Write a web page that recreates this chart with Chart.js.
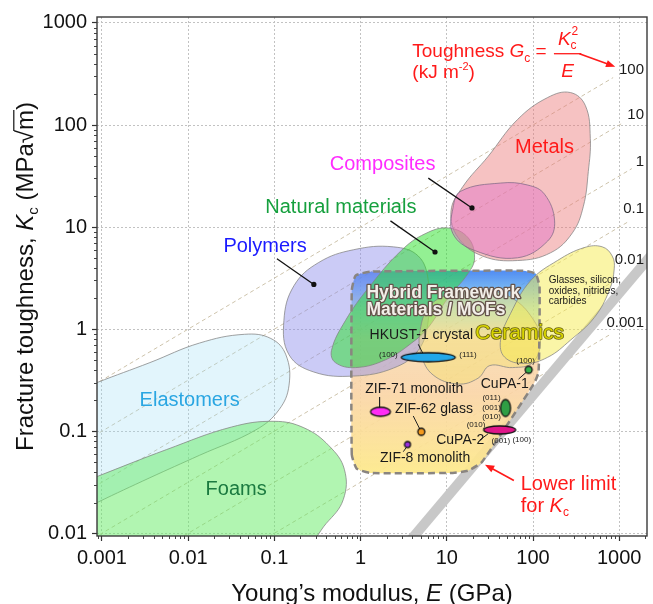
<!DOCTYPE html>
<html>
<head>
<meta charset="utf-8">
<title>Fracture toughness vs Young's modulus</title>
<script src="https://cdn.jsdelivr.net/npm/chart.js@4.4.1/dist/chart.umd.min.js"></script>
<style>
  html, body { margin: 0; padding: 0; background: #fff; }
  #wrap { width: 653px; height: 604px; }
</style>
</head>
<body>
<div id="wrap"><canvas id="ashby" width="653" height="604"></canvas></div>
<script>
const SANS = '"Liberation Sans", Arial, Helvetica, sans-serif';

// axis ranges: E in GPa, Kc in MPa m^0.5
const xMin = 0.000876, xMax = 2100;
const yMin = 0.0094, yMax = 1144;
const xTickValues = [0.001, 0.01, 0.1, 1, 10, 100, 1000];
const xTickLabels = ['0.001', '0.01', '0.1', '1', '10', '100', '1000'];
const yTickValues = [0.01, 0.1, 1, 10, 100, 1000];
const yTickLabels = ['0.01', '0.1', '1', '10', '100', '1000'];

// toughness guide lines, Gc = Kc^2 / E in kJ m^-2
const toughnessG = [100, 10, 1, 0.1, 0.01, 0.001];
const toughnessLabels = ['100', '10', '1', '0.1', '0.01', '0.001'];
const guideStartE = 0.0008;
const guideEndE = [850, 1100, 1400, 1300, 1000, 800];
const guideLabelE = 1940;
const guideLabelK = [348, 127, 44, 15, 4.8, 1.16];

// lower limit for Kc
const lowerLimit = [[3, 0.00675], [3000, 6.75]];

// material family outlines, [E, Kc]
const elastomers = [[0.00056, 0.254], [0.00088, 0.30], [0.0036, 0.47], [0.0135, 0.73], [0.045, 0.89],
  [0.091, 0.81], [0.136, 0.56], [0.148, 0.283], [0.113, 0.162], [0.061, 0.103], [0.0135, 0.058],
  [0.0036, 0.035], [0.00088, 0.020], [0.00056, 0.0164]];
const foams = [[0.00056, 0.031], [0.00088, 0.036], [0.0056, 0.066], [0.032, 0.11], [0.10, 0.125],
  [0.22, 0.108], [0.43, 0.072], [0.65, 0.042], [0.63, 0.0214], [0.40, 0.0125], [0.22, 0.0078],
  [0.00056, 0.0078]];
const polymers = [[0.129, 1.22], [0.169, 2.67], [0.327, 4.5], [0.83, 6.0], [2.4, 6.4], [4.67, 5.2],
  [6.1, 2.99], [6.1, 1.22], [4.67, 0.62], [2.4, 0.415], [0.83, 0.347], [0.287, 0.38], [0.148, 0.56]];
const natural = [[0.46, 0.62], [0.67, 1.22], [1.24, 2.55], [2.97, 5.9], [5.6, 8.6], [10.4, 9.8],
  [17.6, 7.9], [21, 5.0], [17.6, 3.5], [10.4, 2.04], [6.1, 1.04], [3.9, 0.73], [1.94, 0.50],
  [0.875, 0.42], [0.51, 0.47]];
const ceramics = [[4.9, 0.97], [6.4, 1.71], [11.8, 2.23], [30, 2.39], [58, 2.0], [99, 1.27], [122, 0.78],
  [99, 0.47], [58, 0.42], [31.6, 0.44], [23, 0.33], [13.5, 0.29], [6.95, 0.355], [5.06, 0.56]];
const glasses = [[394, 6.3], [637, 6.4], [830, 5.2], [875, 3.9], [766, 2.39], [514, 1.30], [272, 0.78],
  [148, 0.53], [80, 0.46], [47, 0.53], [42, 0.78], [55, 1.43], [94, 2.99], [192, 4.7]];
const metals = [[272, 208], [405, 155], [462, 74], [438, 35], [384, 16], [287, 8.8], [160, 5.6],
  [66, 4.7], [26, 5.2], [13.5, 7.9], [11.2, 14.4], [15.4, 25], [30, 49], [66, 113], [148, 186]];
const composites = [[14.6, 22.5], [42, 27], [87, 25.8], [136, 21], [178, 11.5], [148, 7.3], [66, 5.0],
  [21, 5.9], [11.8, 8.6], [11.8, 15.4]];
const mofBox = [[0.79, 0.059], [0.79, 2.39], [0.875, 3.35], [1.30, 3.66], [76, 3.74], [107, 3.5],
  [119, 2.61], [116, 0.38], [102, 0.29], [25.6, 0.050], [17.6, 0.041], [10.9, 0.039], [1.30, 0.039],
  [0.90, 0.043]];

// MOF samples
const mofNames = ['HKUST-1 crystal', 'ZIF-71 monolith', 'ZIF-62 glass', 'ZIF-8 monolith', 'CuPA-1 (100)', 'CuPA-1', 'CuPA-2'];
const mofE = [6.1, 1.7, 5.06, 3.5, 89, 48, 41];
const mofK = [0.53, 0.155, 0.0987, 0.074, 0.40, 0.169, 0.103];

// leader lines [from, to]; dotted ones end on a family
const familyLeaders = [[[0.107, 4.9], [0.287, 2.74]], [[2.22, 11.5], [7.3, 5.7]], [[6.1, 30.2], [19.6, 15.4]]];
const sampleLeaders = [[[4.67, 0.71], [5.5, 0.54]], [[1.66, 0.216], [1.66, 0.169]], [[4.08, 0.141], [4.92, 0.103]],
  [[3.13, 0.063], [3.5, 0.072]], [[68, 0.324], [87, 0.39]], [[24.2, 0.082], [30, 0.094]]];

// text placed on the plot: [text, E, Kc]
const familyLabels = [
  ['Metals', 136, 60.5, '#ff1a1a'],
  ['Composites', 1.8, 41, '#ff2cff'],
  ['Natural materials', 0.59, 15.7, '#16a03e'],
  ['Polymers', 0.078, 6.4, '#1a1aff'],
  ['Elastomers', 0.0104, 0.198, '#2aa6e2'],
  ['Foams', 0.036, 0.0269, '#1b7a40']
];
const sampleLabels = [
  ['HKUST-1 crystal', 5.06, 0.87], ['ZIF-71 monolith', 4.2, 0.26], ['ZIF-62 glass', 7.1, 0.165],
  ['ZIF-8 monolith', 5.6, 0.055], ['CuPA-1', 47, 0.29], ['CuPA-2', 14.3, 0.082]
];
const facetLabels = [
  ['(100)', 2.1, 0.56], ['(111)', 17.6, 0.56], ['(100)', 82, 0.485],
  ['(011)', 33, 0.212], ['(001)', 33, 0.169], ['(010)', 33, 0.138],
  ['(010)', 21.8, 0.115], ['(001)', 42.4, 0.0805], ['(100)', 74, 0.082]
];
const glassesText = ['Glasses, silicon,', 'oxides, nitrides,', 'carbides'];
const glassesAnchor = [152, 2.99];
const hybridText = ['Hybrid Framework', 'Materials / MOFs'];
const hybridAnchor = [1.17, 2.04];
const ceramicsAnchor = [70, 0.91];
const toughAnchor = [3.98, 467];
const toughUnitAnchor = [3.98, 291];
const lowerAnchor = [72, 0.030];
const redArrows = [[[345, 499], [900, 372]], [[60, 0.0329], [27.7, 0.047]]];

const isDecade = v => Math.abs(Math.log10(v) - Math.round(Math.log10(v))) < 1e-6;
const tickText = (v, values, labels) => {
  const i = values.findIndex(t => Math.abs(Math.log10(v / t)) < 1e-6);
  return i < 0 ? '' : labels[i];
};
const pts = arr => arr.map(([x, y]) => ({x, y}));

function region(outline, fill, extra) {
  return Object.assign({
    data: pts(outline), closed: true, showLine: true, spanGaps: true,
    fill: 'shape', backgroundColor: fill, borderColor: 'rgba(130,130,130,0.75)',
    borderWidth: 1, pointRadius: 0, tension: 0.4, clip: 0
  }, extra || {});
}

function mofGradient(c) {
  const chart = c.chart;
  if (!chart.chartArea) return 'rgba(0,0,0,0)';
  const y = chart.scales.y;
  const ks = mofBox.map(p => p[1]);
  const top = y.getPixelForValue(Math.max(...ks)), bot = y.getPixelForValue(Math.min(...ks));
  const g = chart.ctx.createLinearGradient(0, top, 0, bot);
  g.addColorStop(0, 'rgba(50,120,240,0.85)');
  g.addColorStop(0.1, 'rgba(90,170,240,0.8)');
  g.addColorStop(0.2, 'rgba(150,215,205,0.7)');
  g.addColorStop(0.33, 'rgba(246,214,170,0.8)');
  g.addColorStop(0.6, 'rgba(250,212,165,0.9)');
  g.addColorStop(1, 'rgba(253,233,140,0.95)');
  return g;
}

function ellipseMark(rx, ry, fill) {
  const c = document.createElement('canvas');
  c.width = Math.ceil(rx * 2 + 4);
  c.height = Math.ceil(ry * 2 + 4);
  const g = c.getContext('2d');
  g.beginPath();
  g.ellipse(c.width / 2, c.height / 2, rx, ry, 0, 0, Math.PI * 2);
  g.fillStyle = fill;
  g.fill();
  g.lineWidth = 1.3;
  g.strokeStyle = '#111';
  g.stroke();
  return c;
}
const markStyles = [
  ellipseMark(27, 4.5, '#22a7e8'), ellipseMark(10, 4.5, '#ff2df5'), ellipseMark(3.5, 3.5, '#f39a1e'),
  ellipseMark(3, 3, '#9b2fe0'), ellipseMark(3.5, 3.5, '#33b04a'), ellipseMark(5, 8.5, '#2f9e44'),
  ellipseMark(16, 4, '#e0168a')
];

// datasets listed bottom layer first
const layers = [];
toughnessG.forEach((g, i) => layers.push({
  data: [{x: guideStartE, y: Math.sqrt(g * guideStartE)}, {x: guideEndE[i], y: Math.sqrt(g * guideEndE[i])}],
  showLine: true, borderColor: '#cdc3ab', borderWidth: 1, borderDash: [4, 3], pointRadius: 0, clip: 0
}));
layers.push({data: pts(lowerLimit), showLine: true, borderColor: '#c8c8c8', borderWidth: 10, pointRadius: 0, clip: 0});
layers.push(region(elastomers, 'rgba(160,222,245,0.3)'));
layers.push(region(foams, 'rgba(100,235,100,0.5)'));
layers.push(region(mofBox, mofGradient, {borderWidth: 0, tension: 0.15}));
layers.push(region(polymers, 'rgba(140,140,235,0.45)'));
layers.push(region(natural, 'rgba(40,225,40,0.5)'));
layers.push(region(ceramics, 'rgba(245,225,110,0.45)'));
layers.push(region(glasses, 'rgba(245,235,80,0.5)'));
layers.push(region(metals, 'rgba(235,120,120,0.45)'));
layers.push(region(composites, 'rgba(225,110,200,0.45)', {borderColor: 'rgba(120,100,130,0.7)'}));
layers.push(region(mofBox, 'rgba(0,0,0,0)', {fill: false, borderColor: '#8a8580', borderWidth: 2.5, borderDash: [7, 4], tension: 0.15}));
familyLeaders.forEach(l => layers.push({
  data: pts(l), showLine: true, borderColor: '#111', borderWidth: 1.3,
  pointRadius: [0, 2.6], pointBackgroundColor: '#111', pointBorderWidth: 0, clip: 0
}));
sampleLeaders.forEach(l => layers.push({
  data: pts(l), showLine: true, borderColor: '#222', borderWidth: 1, pointRadius: 0, clip: 0
}));
layers.push({
  label: 'MOFs', data: mofE.map((e, i) => ({x: e, y: mofK[i]})),
  pointStyle: markStyles, pointRadius: 5, clip: false
});
layers.forEach((d, i) => { d.order = layers.length - i; });

function richWidth(ctx, parts) {
  let w = 0;
  for (const p of parts) { ctx.font = p.font; w += ctx.measureText(p.t).width; }
  return w;
}
function drawRich(ctx, parts, x, y) {
  for (const p of parts) {
    ctx.font = p.font;
    ctx.fillText(p.t, x, y + (p.dy || 0));
    p.x0 = x;
    x += ctx.measureText(p.t).width;
    p.x1 = x;
  }
  return x;
}
function arrow(ctx, x0, y0, x1, y1) {
  const a = Math.atan2(y1 - y0, x1 - x0), h = 10;
  ctx.beginPath();
  ctx.moveTo(x0, y0);
  ctx.lineTo(x1 - Math.cos(a) * h * 0.8, y1 - Math.sin(a) * h * 0.8);
  ctx.stroke();
  ctx.beginPath();
  ctx.moveTo(x1, y1);
  ctx.lineTo(x1 - h * Math.cos(a - 0.38), y1 - h * Math.sin(a - 0.38));
  ctx.lineTo(x1 - h * Math.cos(a + 0.38), y1 - h * Math.sin(a + 0.38));
  ctx.closePath();
  ctx.fill();
}

const annotate = {
  id: 'annotate',
  afterDatasetUpdate(chart, args) {
    const ds = chart.data.datasets[args.index];
    if (ds.closed) {
      const line = args.meta.dataset;
      line._loop = true;
      line._fullLoop = true;
      delete line._segments;
      line._pointsUpdated = false;
    }
  },
  afterDraw(chart) {
    const ctx = chart.ctx, area = chart.chartArea;
    const xs = chart.scales.x, ys = chart.scales.y;
    const px = v => xs.getPixelForValue(v), py = v => ys.getPixelForValue(v);
    ctx.save();

    // minor ticks
    ctx.strokeStyle = '#444';
    ctx.lineWidth = 1;
    ctx.beginPath();
    for (let d = -4; d <= 3; d++) {
      for (let m = 2; m <= 9; m++) {
        const v = m * Math.pow(10, d);
        if (v > xMin && v < xMax) { const x = Math.round(px(v)) + 0.5; ctx.moveTo(x, area.bottom); ctx.lineTo(x, area.bottom + 3); }
        if (v > yMin && v < yMax) { const y = Math.round(py(v)) + 0.5; ctx.moveTo(area.left, y); ctx.lineTo(area.left - 3, y); }
      }
    }
    ctx.stroke();

    // plot frame
    ctx.strokeStyle = '#3a3a3a';
    ctx.lineWidth = 1.4;
    ctx.strokeRect(area.left, area.top, area.right - area.left, area.bottom - area.top);

    ctx.textBaseline = 'middle';
    ctx.textAlign = 'center';

    familyLabels.forEach(([t, e, k, c]) => {
      ctx.font = `20px ${SANS}`;
      ctx.fillStyle = c;
      ctx.fillText(t, px(e), py(k));
    });

    ctx.fillStyle = '#1a1a1a';
    ctx.font = `14px ${SANS}`;
    sampleLabels.forEach(([t, e, k]) => ctx.fillText(t, px(e), py(k)));
    ctx.font = `8px ${SANS}`;
    facetLabels.forEach(([t, e, k]) => ctx.fillText(t, px(e), py(k)));

    // toughness values on the guide lines
    ctx.textAlign = 'right';
    ctx.font = `15px ${SANS}`;
    toughnessLabels.forEach((t, i) => ctx.fillText(t, px(guideLabelE), py(guideLabelK[i])));

    ctx.textAlign = 'left';
    ctx.font = `10px ${SANS}`;
    glassesText.forEach((t, i) => ctx.fillText(t, px(glassesAnchor[0]), py(glassesAnchor[1]) + i * 10.5));

    // outlined headings
    ctx.lineJoin = 'round';
    ctx.textBaseline = 'alphabetic';
    ctx.font = `bold 17.5px ${SANS}`;
    hybridText.forEach((t, i) => {
      const x = px(hybridAnchor[0]), y = py(hybridAnchor[1]) + i * 17;
      ctx.strokeStyle = '#66544c';
      ctx.lineWidth = 2.6;
      ctx.strokeText(t, x, y);
      ctx.fillStyle = '#f3efe9';
      ctx.fillText(t, x, y);
    });
    ctx.textAlign = 'center';
    ctx.textBaseline = 'middle';
    ctx.font = `21px ${SANS}`;
    ctx.strokeStyle = '#6a6412';
    ctx.lineWidth = 1.6;
    ctx.strokeText('Ceramics', px(ceramicsAnchor[0]), py(ceramicsAnchor[1]));
    ctx.fillStyle = '#d8d400';
    ctx.fillText('Ceramics', px(ceramicsAnchor[0]), py(ceramicsAnchor[1]));

    // red notes
    const red = '#ff1a1a';
    ctx.fillStyle = red;
    ctx.strokeStyle = red;
    ctx.textAlign = 'left';
    ctx.textBaseline = 'alphabetic';
    const f = 19, rom = `${f}px ${SANS}`, ita = `italic ${f}px ${SANS}`, sm = `12px ${SANS}`;
    let tx = px(toughAnchor[0]);
    const tb = py(toughAnchor[1]);
    tx = drawRich(ctx, [{t: 'Toughness ', font: rom}, {t: 'G', font: ita}, {t: 'c', font: sm, dy: 5}, {t: ' = ', font: rom}], tx, tb);
    ctx.font = ita;
    const wK = ctx.measureText('K').width;
    ctx.font = sm;
    const wS = Math.max(ctx.measureText('c').width, ctx.measureText('2').width);
    ctx.font = ita;
    const wE = ctx.measureText('E').width;
    const barW = Math.max(wK + wS, wE) + 8;
    const bx = tx + 2;
    const nx = bx + (barW - wK - wS) / 2;
    ctx.fillText('K', nx, tb - 12);
    ctx.font = sm;
    ctx.fillText('c', nx + wK, tb - 8);
    ctx.fillText('2', nx + wK + 1, tb - 22);
    ctx.font = ita;
    ctx.fillText('E', bx + (barW - wE) / 2, tb + 20);
    ctx.lineWidth = 1.3;
    ctx.beginPath();
    ctx.moveTo(bx, tb - 3);
    ctx.lineTo(bx + barW, tb - 3);
    ctx.stroke();
    drawRich(ctx, [{t: '(kJ m', font: rom}, {t: '-2', font: `11px ${SANS}`, dy: -8}, {t: ')', font: rom}],
      px(toughUnitAnchor[0]), py(toughUnitAnchor[1]));

    ctx.textBaseline = 'middle';
    const lx = px(lowerAnchor[0]), ly = py(lowerAnchor[1]);
    ctx.font = `20px ${SANS}`;
    ctx.fillText('Lower limit', lx, ly);
    drawRich(ctx, [{t: 'for ', font: `20px ${SANS}`}, {t: 'K', font: `italic 20px ${SANS}`}, {t: 'c', font: sm, dy: 6}], lx, ly + 22);

    ctx.lineWidth = 1.6;
    redArrows.forEach(([a, b]) => arrow(ctx, px(a[0]), py(a[1]), px(b[0]), py(b[1])));

    // axis titles
    const s = 24;
    ctx.fillStyle = '#111';
    ctx.strokeStyle = '#111';
    ctx.textBaseline = 'alphabetic';
    const xParts = [{t: 'Young\u2019s modulus, ', font: `${s}px ${SANS}`}, {t: 'E', font: `italic ${s}px ${SANS}`}, {t: ' (GPa)', font: `${s}px ${SANS}`}];
    const xw = richWidth(ctx, xParts);
    drawRich(ctx, xParts, (area.left + area.right) / 2 - xw / 2, 601);

    const yParts = [
      {t: 'Fracture toughness, ', font: `${s}px ${SANS}`},
      {t: 'K', font: `italic ${s}px ${SANS}`},
      {t: 'c', font: `15px ${SANS}`, dy: 5},
      {t: ' (MPa', font: `${s}px ${SANS}`},
      {t: '\u221A', font: `${s}px ${SANS}`},
      {t: 'm', font: `${s}px ${SANS}`},
      {t: ')', font: `${s}px ${SANS}`}
    ];
    ctx.translate(33, (area.top + area.bottom) / 2);
    ctx.rotate(-Math.PI / 2);
    const yw = richWidth(ctx, yParts);
    drawRich(ctx, yParts, -yw / 2, 0);
    ctx.lineWidth = 1.2;
    ctx.beginPath();
    ctx.moveTo(yParts[4].x1 - 1, -s * 0.8);
    ctx.lineTo(yParts[5].x1, -s * 0.8);
    ctx.stroke();

    ctx.restore();
  }
};

new Chart(document.getElementById('ashby'), {
  type: 'scatter',
  data: {datasets: layers},
  options: {
    responsive: false,
    maintainAspectRatio: false,
    devicePixelRatio: 1,
    animation: false,
    events: [],
    layout: {padding: {top: 15, right: 3, left: 0, bottom: 0}},
    plugins: {legend: {display: false}, tooltip: {enabled: false}},
    scales: {
      x: {
        type: 'logarithmic', min: xMin, max: xMax,
        afterFit(scale) { scale.height = 68; },
        border: {display: false, dash: [2, 2]},
        grid: {
          color: c => (c.tick && isDecade(c.tick.value) ? '#c2c2c2' : 'rgba(0,0,0,0)'),
          lineWidth: 1, tickLength: 5, tickWidth: 1.2,
          tickColor: c => (c.tick && isDecade(c.tick.value) ? '#333' : 'rgba(0,0,0,0)')
        },
        ticks: {
          autoSkip: false, maxRotation: 0, minRotation: 0, padding: 5, color: '#111',
          font: {family: SANS, size: 20},
          callback: v => tickText(v, xTickValues, xTickLabels)
        }
      },
      y: {
        type: 'logarithmic', min: yMin, max: yMax,
        afterFit(scale) { scale.width = 97; },
        border: {display: false, dash: [2, 2]},
        grid: {
          color: c => (c.tick && isDecade(c.tick.value) ? '#c2c2c2' : 'rgba(0,0,0,0)'),
          lineWidth: 1, tickLength: 5, tickWidth: 1.2,
          tickColor: c => (c.tick && isDecade(c.tick.value) ? '#333' : 'rgba(0,0,0,0)')
        },
        ticks: {
          autoSkip: false, padding: 5, color: '#111',
          font: {family: SANS, size: 20},
          callback: v => tickText(v, yTickValues, yTickLabels)
        }
      }
    }
  },
  plugins: [annotate]
});
</script>
</body>
</html>
